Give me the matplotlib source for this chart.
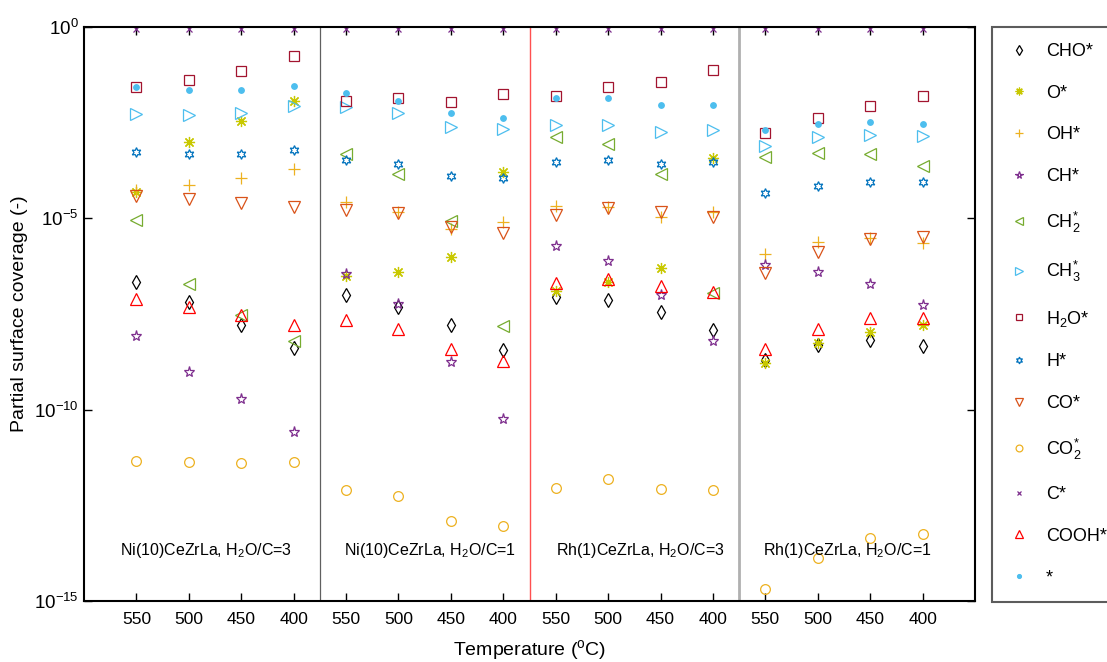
import numpy as np
import matplotlib
matplotlib.use("Agg")
import matplotlib.pyplot as plt

plt.rcParams['font.family'] = ['Liberation Sans', 'DejaVu Sans']
plt.rcParams['mathtext.fontset'] = 'custom'
plt.rcParams['mathtext.rm'] = 'Liberation Sans'
plt.rcParams['mathtext.it'] = 'Liberation Sans:italic'
plt.rcParams['mathtext.bf'] = 'Liberation Sans:bold'

# ---------------- data ----------------
temps = [550, 500, 450, 400]
panels = [r"Ni(10)CeZrLa, H$_2$O/C=3", r"Ni(10)CeZrLa, H$_2$O/C=1",
          r"Rh(1)CeZrLa, H$_2$O/C=3", r"Rh(1)CeZrLa, H$_2$O/C=1"]
tick_labels = [str(t) for t in temps] * 4

CHO = [2.2e-7, 6.5e-8, 1.6e-8, 4.1e-9, 1.0e-7, 4.8e-8, 1.6e-8, 3.6e-9,
       8.7e-8, 7.4e-8, 3.5e-8, 1.2e-8, 2.0e-9, 4.9e-9, 6.6e-9, 4.6e-9]
O = [4.9e-5, 1.0e-3, 3.5e-3, 1.2e-2, 3.1e-7, 4.0e-7, 1.0e-6, 1.6e-4,
     1.3e-7, 2.2e-7, 5.0e-7, 3.7e-4, 1.7e-9, 5.5e-9, 1.1e-8, 1.6e-8]
OH = [5.5e-5, 7.4e-5, 1.1e-4, 1.9e-4, 2.7e-5, 1.5e-5, 5.2e-6, 7.9e-6,
      2.1e-5, 2.0e-5, 1.1e-5, 1.5e-5, 1.2e-6, 2.4e-6, 3.1e-6, 2.3e-6]
CH = [8.5e-9, 9.8e-10, 1.9e-10, 2.6e-11, 3.5e-7, 5.8e-8, 1.8e-9, 5.8e-11,
      1.9e-6, 7.8e-7, 1.0e-7, 6.3e-9, 6.0e-7, 4.0e-7, 1.9e-7, 5.5e-8]
CH2 = [9.1e-6, 1.9e-7, 3.0e-8, 6.3e-9, 4.8e-4, 1.4e-4, 8.5e-6, 1.5e-8,
       1.3e-3, 8.7e-4, 1.4e-4, 1.1e-7, 4.0e-4, 5.1e-4, 4.8e-4, 2.3e-4]
CH3 = [5.4e-3, 5.0e-3, 5.6e-3, 8.7e-3, 8.1e-3, 5.6e-3, 2.5e-3, 2.1e-3,
       2.8e-3, 2.8e-3, 1.8e-3, 2.0e-3, 7.8e-4, 1.3e-3, 1.5e-3, 1.4e-3]
H2O = [2.7e-2, 4.2e-2, 7.1e-2, 1.7e-1, 1.2e-2, 1.4e-2, 1.1e-2, 1.8e-2,
       1.6e-2, 2.7e-2, 3.6e-2, 7.6e-2, 1.7e-3, 4.2e-3, 8.7e-3, 1.6e-2]
H = [5.4e-4, 4.8e-4, 4.8e-4, 6.2e-4, 3.3e-4, 2.6e-4, 1.3e-4, 1.1e-4,
     3.0e-4, 3.3e-4, 2.6e-4, 3.0e-4, 4.6e-5, 7.1e-5, 8.9e-5, 8.9e-5]
CO = [3.8e-5, 3.2e-5, 2.5e-5, 2.0e-5, 1.7e-5, 1.4e-5, 5.9e-6, 4.2e-6,
      1.2e-5, 1.9e-5, 1.5e-5, 1.1e-5, 3.7e-7, 1.3e-6, 2.9e-6, 3.2e-6]
CO2 = [4.6e-12, 4.3e-12, 4.1e-12, 4.3e-12, 7.9e-13, 5.6e-13, 1.2e-13, 9.1e-14,
       8.9e-13, 1.5e-12, 8.5e-13, 7.9e-13, 2.0e-15, 1.3e-14, 4.5e-14, 5.6e-14]
C = [0.9, 0.9, 0.9, 0.9, 0.9, 0.9, 0.9, 0.9,
     0.9, 0.9, 0.9, 0.9, 0.9, 0.9, 0.9, 0.9]
COOH = [7.8e-8, 4.8e-8, 3.0e-8, 1.6e-8, 2.2e-8, 1.3e-8, 3.9e-9, 1.9e-9,
        2.0e-7, 2.6e-7, 1.7e-7, 1.2e-7, 3.9e-9, 1.3e-8, 2.5e-8, 2.5e-8]
FREE = [2.7e-2, 2.2e-2, 2.2e-2, 2.9e-2, 1.9e-2, 1.2e-2, 5.6e-3, 4.2e-3,
        1.4e-2, 1.4e-2, 9.1e-3, 9.1e-3, 2.0e-3, 3.0e-3, 3.3e-3, 3.0e-3]

species = [
    ("CHO*", CHO), ("O*", O), ("OH*", OH), ("CH*", CH),
    (r"CH$_2^{*}$", CH2), (r"CH$_3^{*}$", CH3), (r"H$_2$O*", H2O),
    ("H*", H), ("CO*", CO), (r"CO$_2^{*}$", CO2), ("C*", C),
    ("COOH*", COOH), ("*", FREE),
]

# ---------------- styles ----------------
styles = [
    dict(marker='d', color='#000000', ms=7, mfc='none'),
    dict(marker=(8, 2, 0), color='#c8c800', ms=8, mfc='none'),
    dict(marker='+', color='#EDB120', ms=9, mfc='none'),
    dict(marker='*', color='#7E2F8E', ms=8, mfc='none'),
    dict(marker='<', color='#77AC30', ms=8, mfc='none'),
    dict(marker='>', color='#4DBEEE', ms=8, mfc='none'),
    dict(marker='s', color='#A2142F', ms=7, mfc='none'),
    dict(marker=(6, 1, 0), color='#0072BD', ms=7, mfc='none'),
    dict(marker='v', color='#D95319', ms=8, mfc='none'),
    dict(marker='o', color='#EDB120', ms=7, mfc='none'),
    dict(marker='x', color='#7E2F8E', ms=4, mfc='none'),
    dict(marker='^', color='#FF0000', ms=8, mfc='none'),
    dict(marker='o', color='#4DBEEE', ms=4, mfc='#4DBEEE'),
]

fig = plt.figure(figsize=(11.07, 6.62), dpi=100)
ax = fig.add_axes([84 / 1107, 1 - 601 / 662, (975 - 84) / 1107, (601 - 27) / 662])

x = np.arange(1, 17)
handles = []
for (label, vals), st in zip(species, styles):
    h, = ax.plot(x, vals, linestyle='none', marker=st['marker'], color=st['color'],
                 markersize=st['ms'], markerfacecolor=st['mfc'],
                 markeredgewidth=0.9, label=label, clip_on=False)
    handles.append(h)

ax.set_yscale('log')
ax.set_ylim(1e-15, 1e0)
ax.set_xlim(0, 17)
ax.set_yticks([1e-15, 1e-10, 1e-5, 1e0])
ax.set_yticklabels([r"10$^{-15}$", r"10$^{-10}$", r"10$^{-5}$", r"10$^{0}$"])
ax.yaxis.set_minor_locator(matplotlib.ticker.NullLocator())
ax.set_xticks(x)
ax.set_xticklabels(tick_labels)
ax.tick_params(axis='both', direction='in', labelsize=12.5, top=True, right=True,
               length=6, width=1.0, pad=8)
ax.tick_params(axis='y', pad=4, labelsize=13.5)
for s in ax.spines.values():
    s.set_linewidth(1.5)

# panel separators
ax.axvline(4.5, color='#606060', lw=0.9)
ax.axvline(8.5, color='#ff5050', lw=1.0)
ax.axvline(12.5, color='#b0b0b0', lw=2.0)

label_x = [2.32, 6.6, 10.62, 14.56]
for lx, txt in zip(label_x, panels):
    ax.text(lx, 2.1e-14, txt, ha='center', va='center', fontsize=11.5)

ax.set_xlabel(r"Temperature ($^{\mathrm{o}}$C)", fontsize=14, labelpad=8)
ax.set_ylabel("Partial surface coverage (-)", fontsize=14, labelpad=4)

leg = fig.legend(handles=handles, loc='upper left',
                 bbox_to_anchor=(992 / 1107, 1 - 27 / 662), borderaxespad=0,
                 fontsize=13, frameon=True, fancybox=False, labelspacing=1.36,
                 handlelength=1.2, handletextpad=0.9, borderpad=0.9,
                 markerscale=0.7)
leg.get_frame().set_edgecolor('#333333')
leg.get_frame().set_linewidth(1.5)

fig.savefig("out.png", dpi=100)
